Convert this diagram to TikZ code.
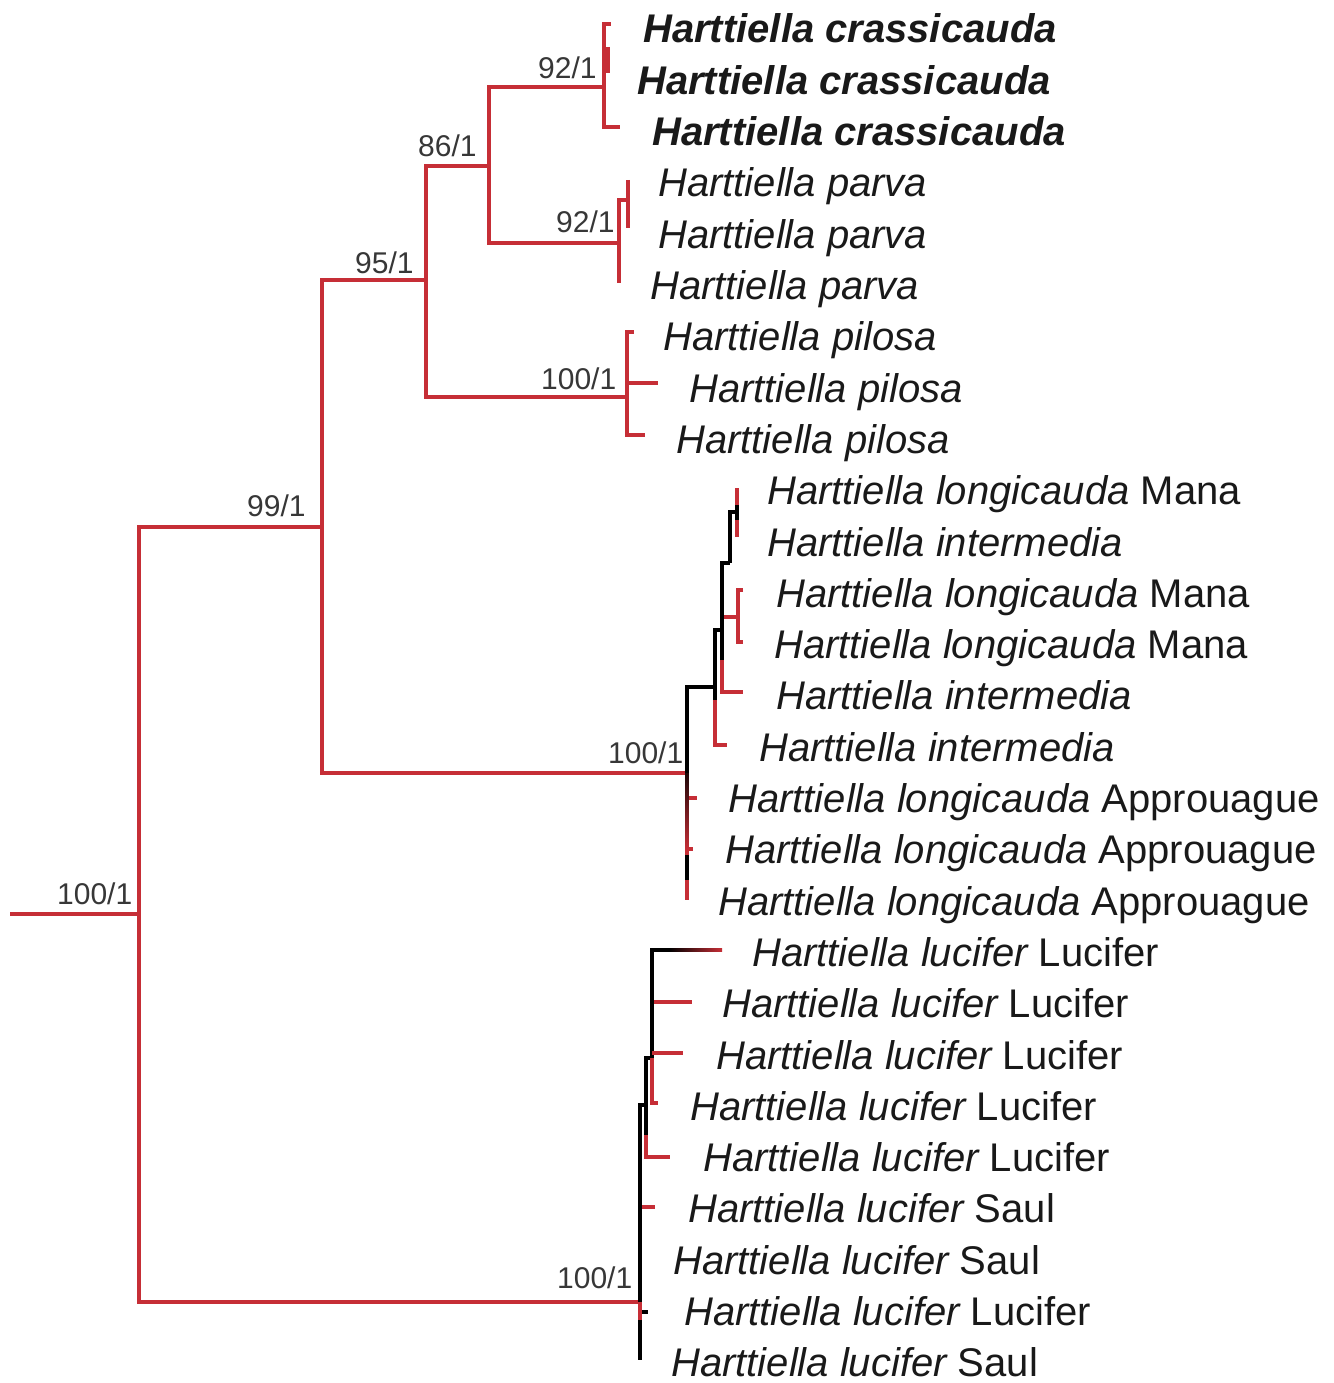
\documentclass[tikz,border=0pt]{standalone}
\usepackage{fontspec}
\setmainfont{Liberation Sans}
\definecolor{br}{RGB}{198,46,54}
\definecolor{tx}{RGB}{25,25,25}
\definecolor{sx}{RGB}{55,55,55}
\newcommand\tipl[4]{\node[spn] (#1) at (#2,{43+51.3*#3}) {#4};}
\newcommand\suppl[4]{\node[supn] (#1) at (#2,#3) {#4};}
\begin{document}
\begin{tikzpicture}[x=1pt,y=-1pt,
  rb/.style={draw=br,line width=3.6pt},
  kb/.style={draw=black,line width=3.2pt},
  spn/.style={anchor=base west,inner sep=0pt,text=tx,font=\fontsize{40}{48}\selectfont\itshape},
  supn/.style={anchor=base west,inner sep=0pt,text=sx,font=\fontsize{30}{36}\selectfont}]
\useasboundingbox (0,0) rectangle (1333,1383);
% ---------- internal nodes ----------
\coordinate (s0) at (10,914);
\coordinate (R) at (139,914);
\coordinate (A) at (322,527);
\coordinate (B) at (426,280);
\coordinate (C) at (489,166);
\coordinate (Dcr) at (604,87);
\coordinate (Ecp) at (619,243);
\coordinate (Fpi) at (627,397);
\coordinate (Glo) at (687,773);
\coordinate (Hlu) at (640,1302);
% ---------- backbone ----------
\draw[rb] (s0) -- (R);
\draw[rb] (R) |- (A);
\draw[rb] (R) |- (Hlu);
\draw[rb] (A) |- (B);
\draw[rb] (A) |- (Glo);
\draw[rb] (B) |- (C);
\draw[rb] (B) |- (Fpi);
\draw[rb] (C) |- (Dcr);
\draw[rb] (C) |- (Ecp);
% ---------- crassicauda ----------
\coordinate (c1) at (611,24);
\coordinate (c3) at (620,127);
\coordinate (cs1) at (608,47);
\coordinate (cs2) at (608,73);
\draw[rb] (Dcr) |- (c1);
\draw[rb] (Dcr) |- (c3);
\draw[rb] (cs1) -- (cs2);
% ---------- parva ----------
\coordinate (p0) at (619,200);
\coordinate (p1) at (628,200);
\coordinate (p1a) at (628,180);
\coordinate (p1b) at (628,228);
\coordinate (p3) at (619,283);
\draw[rb] (Ecp) -- (p0) -- (p1);
\draw[rb] (Ecp) -- (p3);
\draw[rb] (p1a) -- (p1b);
% ---------- pilosa ----------
\coordinate (q1) at (634,332);
\coordinate (q2) at (658,383);
\coordinate (q3) at (645,435);
\draw[rb] (Fpi) |- (q1);
\draw[rb] (Fpi) |- (q2);
\draw[rb] (Fpi) |- (q3);
% ---------- longicauda / intermedia ----------
\coordinate (G1) at (715,687);
\coordinate (G2) at (722,630);
\coordinate (G3) at (730,563);
\coordinate (G4) at (737,512);
\coordinate (l9) at (687,900);
\coordinate (l7) at (697,798);
\coordinate (l8) at (693,849);
\coordinate (l6) at (727,745);
\coordinate (l5) at (743,692);
\coordinate (lb) at (738,617);
\coordinate (lb1) at (743,590);
\coordinate (lb2) at (743,642);
\coordinate (l1) at (737,488);
\coordinate (l2) at (737,537);
\draw[rb] (Glo) |- (l7);
\draw[rb] (Glo) |- (l8);
\draw[rb] (Glo) -- (l9);
\shade[top color=black,bottom color=br] (685.4,760) rectangle (688.6,850);
\fill[black] (685.4,855) rectangle (688.6,880);
\draw[kb] (Glo) |- (G1);
\draw[rb] (G1) |- (l6);
\draw[kb] (G1) -- (715,700);
\draw[kb] (G1) |- (G2);
\draw[rb] (G2) |- (l5);
\draw[kb] (G2) -- (722,660);
\draw[rb] (G2 |- lb) -- (lb);
\draw[rb] (lb1) -| (lb) |- (lb2);
\draw[kb] (G2) |- (G3);
\draw[kb] (G3) |- (G4);
\draw[rb] (l1) -- (l2);
\draw[kb] (737,505) -- (737,520);
% ---------- lucifer ----------
\coordinate (H1) at (646,1105);
\coordinate (H2) at (652,1058);
\coordinate (u2) at (692,1002);
\coordinate (u3) at (683,1053);
\coordinate (u4) at (658,1103);
\coordinate (u5) at (670,1157);
\coordinate (u6) at (655,1207);
\coordinate (u8) at (648,1312);
\coordinate (u9) at (640,1360);
\draw[rb] (Hlu) |- (u6);
\draw[kb] (Hlu) |- (u8);
\draw[rb] (Hlu) -- (u9);
\fill[black] (638.4,1105) rectangle (641.6,1170);
\shade[top color=black,bottom color=br] (638.4,1170) rectangle (641.6,1200);
\fill[black] (638.4,1240) rectangle (641.6,1290);
\fill[black] (638.4,1320) rectangle (641.6,1360);
\draw[kb] (Hlu) |- (H1);
\draw[rb] (H1) |- (u5);
\draw[kb] (H1) -- (646,1135);
\draw[kb] (H1) |- (H2);
\draw[kb] (H2) |- (652,950) -- (670,950);
\shade[left color=black,right color=br] (669,948.4) rectangle (722,951.6);
\draw[rb] (H2) |- (u4);
\draw[rb] (H2 |- u2) -- (u2);
\draw[rb] (H2 |- u3) -- (u3);
\draw[kb] (652,950) -- (652,1030);
% ---------- support values ----------
\suppl{s1}{538}{79}{92/1}
\suppl{s2}{418}{157}{86/1}
\suppl{s3}{556}{232}{92/1}
\suppl{s4}{355}{273}{95/1}
\suppl{s5}{541}{389}{100/1}
\suppl{s6}{247}{516}{99/1}
\suppl{s7}{608}{763}{100/1}
\suppl{s8}{57}{904}{100/1}
\suppl{s9}{557}{1288}{100/1}
% ---------- tip labels ----------
\tipl{t0}{643}{0}{\bfseries Harttiella crassicauda}
\tipl{t1}{637}{1}{\bfseries Harttiella crassicauda}
\tipl{t2}{652}{2}{\bfseries Harttiella crassicauda}
\tipl{t3}{658}{3}{Harttiella parva}
\tipl{t4}{658}{4}{Harttiella parva}
\tipl{t5}{650}{5}{Harttiella parva}
\tipl{t6}{663}{6}{Harttiella pilosa}
\tipl{t7}{689}{7}{Harttiella pilosa}
\tipl{t8}{676}{8}{Harttiella pilosa}
\tipl{t9}{767}{9}{Harttiella longicauda \upshape Mana}
\tipl{t10}{767}{10}{Harttiella intermedia}
\tipl{t11}{776}{11}{Harttiella longicauda \upshape Mana}
\tipl{t12}{774}{12}{Harttiella longicauda \upshape Mana}
\tipl{t13}{776}{13}{Harttiella intermedia}
\tipl{t14}{759}{14}{Harttiella intermedia}
\tipl{t15}{728}{15}{Harttiella longicauda \upshape Approuague}
\tipl{t16}{725}{16}{Harttiella longicauda \upshape Approuague}
\tipl{t17}{718}{17}{Harttiella longicauda \upshape Approuague}
\tipl{t18}{752}{18}{Harttiella lucifer \upshape Lucifer}
\tipl{t19}{722}{19}{Harttiella lucifer \upshape Lucifer}
\tipl{t20}{716}{20}{Harttiella lucifer \upshape Lucifer}
\tipl{t21}{690}{21}{Harttiella lucifer \upshape Lucifer}
\tipl{t22}{703}{22}{Harttiella lucifer \upshape Lucifer}
\tipl{t23}{688}{23}{Harttiella lucifer \upshape Saul}
\tipl{t24}{673}{24}{Harttiella lucifer \upshape Saul}
\tipl{t25}{684}{25}{Harttiella lucifer \upshape Lucifer}
\tipl{t26}{671}{26}{Harttiella lucifer \upshape Saul}
\end{tikzpicture}
\end{document}
